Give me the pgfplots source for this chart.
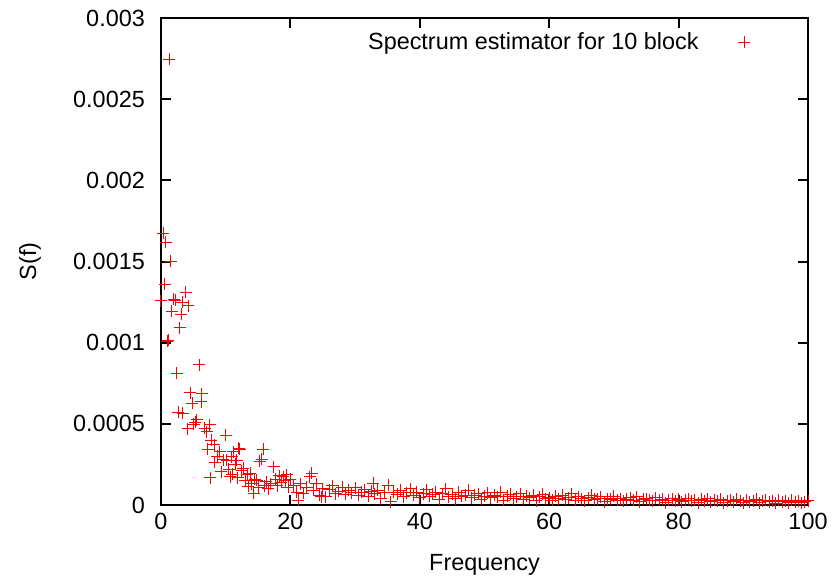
\documentclass[border=0pt]{standalone}
\usepackage{fontspec}
\setmainfont{Liberation Sans}
\usepackage{pgfplots}
\pgfplotsset{compat=1.18}
\pgfdeclareplotmark{redplus}{%
  \pgfsetstrokecolor{red}%
  \pgfpathmoveto{\pgfqpoint{-\pgfplotmarksize}{0pt}}%
  \pgfpathlineto{\pgfqpoint{\pgfplotmarksize}{0pt}}%
  \pgfpathmoveto{\pgfqpoint{0pt}{-\pgfplotmarksize}}%
  \pgfpathlineto{\pgfqpoint{0pt}{\pgfplotmarksize}}%
  \pgfusepathqstroke}
\begin{document}
\fontsize{11.7}{14}\selectfont
\begin{tikzpicture}
\useasboundingbox (-80.5pt,-40pt) rectangle (336pt,252.5pt);
\begin{axis}[
  at={(0,0)}, anchor=south west,
  scale only axis, width=323.5pt, height=243.5pt,
  xmin=0, xmax=100, ymin=0, ymax=0.003,
  xtick={0,20,40,60,80,100},
  ytick={0,0.0005,0.001,0.0015,0.002,0.0025,0.003},
  yticklabels={0,0.0005,0.001,0.0015,0.002,0.0025,0.003},
  scaled y ticks=false,
  /pgf/number format/assume math mode=true,
  tick align=inside,
  major tick length=5pt,
  axis line style={line width=1pt, black},
  every tick/.style={line width=1pt, black},
  yticklabel style={xshift=-4pt},
  xlabel={Frequency}, ylabel={S(f)},
  xlabel style={at={(axis description cs:0.5,0)}, anchor=center, yshift=-30pt},
  ylabel style={at={(axis description cs:-0.2025,0.5)}, anchor=center},
  legend style={draw=none, fill=none, at={(rel axis cs:0.921,0.988)}, anchor=north east, font=\fontsize{11.7}{14}\selectfont},
  legend plot pos=right,
  legend cell align=right,
]
\addplot[only marks, mark=redplus, mark size=3pt, red, line width=0.5pt] table {
x y
0.0 0.001257
0.36 0.001674
0.57 0.00136
0.77 0.001618
1.0 0.00101
1.15 0.001015
1.3 0.002745
1.5 0.001503
1.7 0.001193
2.0 0.001267
2.2 0.001262
2.4 0.000811
2.7 0.000571
2.9 0.001092
3.1 0.001175
3.3 0.001249
3.4 0.000565
3.8 0.00131
4.1 0.00047
4.2 0.001226
4.5 0.000692
4.8 0.000626
5.1 0.000497
5.3 0.000510
5.5 0.000524
5.9 0.000864
6.2 0.000636
6.3 0.000684
6.8 0.000472
7.1 0.000452
7.2 0.000345
7.5 0.000493
7.6 0.000168
7.8 0.0004
8.2 0.00037
8.3 0.000263
8.7 0.00030
9.1 0.000328
9.3 0.000205
9.6 0.00028
10.0 0.000431
10.2 0.000277
10.5 0.00022
10.7 0.000174
10.9 0.000298
11.0 0.00019
11.2 0.000328
11.5 0.00025
11.7 0.000277
11.9 0.000168
12.0 0.000349
12.2 0.000345
12.5 0.00021
12.7 0.000226
13.0 0.00015
13.3 0.00019
13.5 0.000117
13.8 0.000195
14.0 0.00013
14.3 0.000072
14.5 0.00016
14.8 0.000154
15.1 0.00011
15.3 0.000271
15.6 0.000281
15.8 0.000343
16.0 0.00012
16.3 0.000144
16.6 0.00010
17.0 0.00013
17.4 0.000236
17.7 0.00016
18.0 0.00012
18.3 0.00018
18.6 0.00014
18.9 0.000174
19.2 0.00015
19.4 0.000185
19.7 0.00011
20.0 0.00016
20.5 0.00012
21.0 0.00008
21.2 0.00003
21.5 0.00013
22.0 0.000072
22.5 0.00011
23.0 0.000174
23.3 0.000195
23.5 0.00009
24.0 0.00013
24.5 0.00006
24.8 0.00005
25.0 0.00010
25.5 0.00005
26.0 0.000095
26.5 0.00012
27.0 0.00007
27.5 0.000085
28.0 0.00011
28.5 0.000065
29.0 0.00009
29.5 0.000075
30.0 0.000105
30.5 0.00006
31.0 0.00008
31.5 0.000095
32.0 0.000055
32.5 0.000085
32.8 0.000135
33.0 0.00007
33.5 0.00009
34.0 0.00004
34.5 0.00008
35.1 0.000123
35.5 0.00002
36.0 0.00008
36.5 0.000065
37.0 0.00009
37.5 0.00005
38.0 0.000075
38.5 0.0001
39.0 0.00006
39.5 0.00008
40.0 0.000045
40.5 0.00007
41.0 0.000095
41.5 0.000055
42.0 0.000065
42.5 0.00008
43.0 0.000035
43.5 0.00007
44.0 0.0001
44.5 0.00005
45.0 0.000065
45.5 0.00004
46.0 0.00008
46.5 0.000055
47.0 0.00006
47.5 0.00009
48.0 0.000045
48.5 0.00006
49.0 0.00007
49.5 0.000035
50.0 0.000055
50.5 0.000075
51.0 0.000045
51.5 0.00006
52.0 0.00005
52.5 0.00008
53.0 0.00003
53.5 0.000055
54.0 0.000065
54.5 0.00004
55.0 0.00005
55.5 0.00007
56.0 0.000035
56.5 0.000055
57.0 0.000045
57.5 0.00006
58.0 0.000025
58.5 0.00005
59.0 0.000065
59.5 0.00004
60.0 0.000045
60.5 0.00003
61.0 0.000055
61.5 0.00004
62.0 0.00006
62.5 0.000035
63.0 0.000045
63.5 0.00007
64.0 0.00003
64.5 0.00005
65.0 0.00004
65.5 0.000025
66.0 0.000045
66.5 0.00006
67.0 0.000035
67.5 0.00004
68.0 0.00005
68.5 0.00002
69.0 0.00004
69.5 0.000035
70.0 0.000055
70.5 0.00003
71.0 0.00004
71.5 0.000025
72.0 0.000035
72.5 0.000045
73.0 0.00003
73.5 0.00005
74.0 0.00002
74.5 0.000035
75.0 0.00004
75.5 0.00003
76.0 0.000025
76.5 0.000045
77.0 0.00003
77.5 0.000035
78.0 0.000015
78.5 0.00003
79.0 0.00004
79.5 0.000025
80.0 0.000035
80.5 0.00002
81.0 0.00003
81.5 0.00004
82.0 0.000025
82.5 0.00003
83.0 0.000015
83.5 0.000035
84.0 0.000025
84.5 0.00004
85.0 0.00002
85.5 0.00003
86.0 0.000025
86.5 0.000035
87.0 0.000015
87.5 0.000025
88.0 0.00003
88.5 0.00002
89.0 0.000035
89.5 0.000025
90.0 0.000015
90.5 0.00003
91.0 0.00002
91.5 0.000025
92.0 0.000035
92.5 0.000015
93.0 0.000025
93.5 0.00003
94.0 0.00002
94.5 0.000025
95.0 0.00001
95.5 0.00003
96.0 0.00002
96.5 0.000025
97.0 0.000015
97.5 0.00003
98.0 0.00002
98.5 0.000025
99.0 0.000015
99.5 0.00002
100.0 0.000025
};
\addlegendentry{Spectrum estimator for 10 block\hspace*{18pt}}
\end{axis}
\end{tikzpicture}
\end{document}
